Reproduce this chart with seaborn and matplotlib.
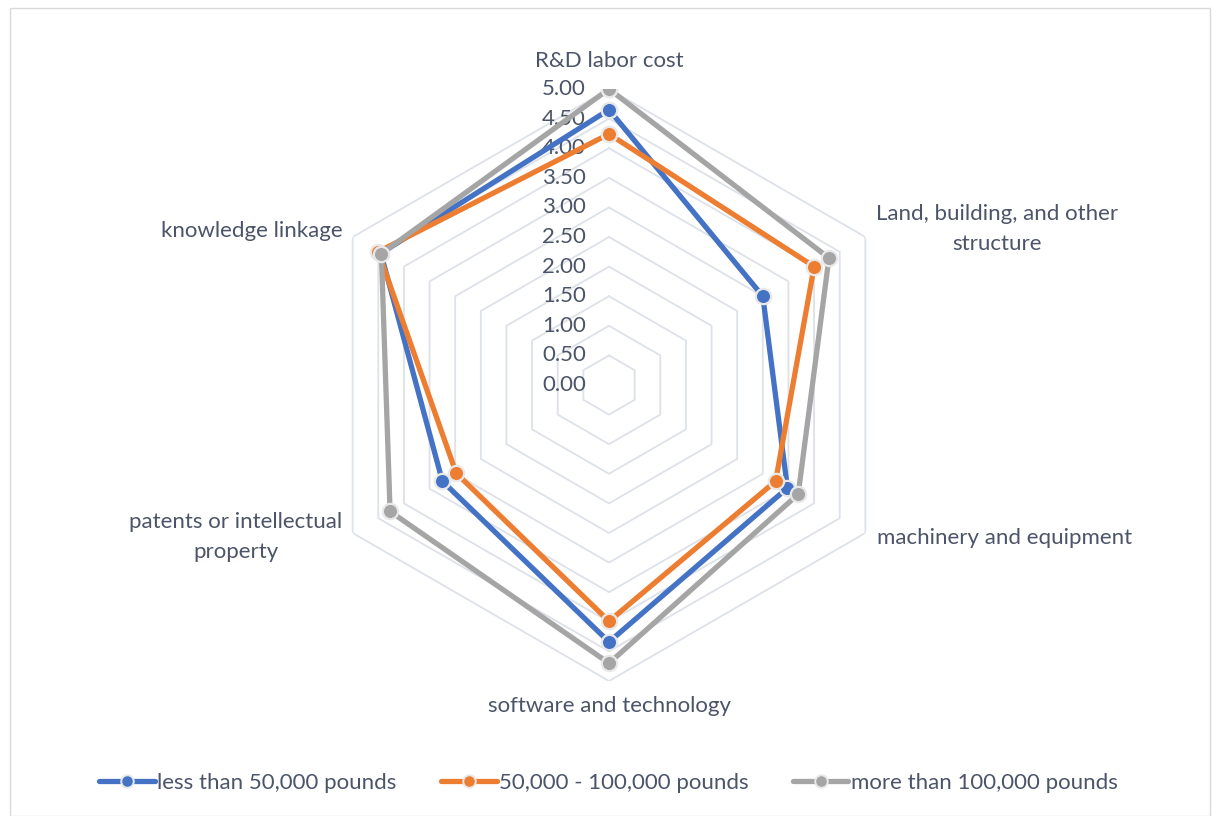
import numpy as np
import pandas as pd
import matplotlib
matplotlib.use("Agg")
import matplotlib.pyplot as plt
import matplotlib.transforms as mtransforms
from matplotlib.lines import Line2D
from matplotlib.patches import Rectangle
import seaborn as sns

categories = ["R&D labor cost", "Land, building, and other\nstructure",
              "machinery and equipment", "software and technology",
              "patents or intellectual\nproperty", "knowledge linkage"]
series_names = ["less than 50,000 pounds", "50,000 - 100,000 pounds",
                "more than 100,000 pounds"]
less_50k = [4.65, 3.00, 3.48, 4.34, 3.25, 4.45]
mid_50_100k = [4.24, 4.00, 3.25, 3.99, 2.98, 4.50]
more_100k = [5.00, 4.29, 3.69, 4.70, 4.27, 4.44]
tick_values = [0.0, 0.5, 1.0, 1.5, 2.0, 2.5, 3.0, 3.5, 4.0, 4.5, 5.0]
tick_labels = ["0.00", "0.50", "1.00", "1.50", "2.00", "2.50", "3.00",
               "3.50", "4.00", "4.50", "5.00"]

colors = ["#4472C4", "#ED7D31", "#A5A5A5"]
text_color = "#4B5468"
grid_color = "#DDE1E8"
FS = 16

sns.set_theme(style="white")
plt.rcParams["font.family"] = ["Lato", "DejaVu Sans"]

W, H = 1217, 816
fig = plt.figure(figsize=(W / 100, H / 100), dpi=100)

cx, cy, R = 609, 385, 296
ax = fig.add_axes([(cx - R) / W, (H - cy - R) / H, 2 * R / W, 2 * R / H],
                  projection="polar")
ax.set_theta_zero_location("N")
ax.set_theta_direction(-1)
ax.set_ylim(0, 5)
ax.grid(False)
ax.spines["polar"].set_visible(False)
ax.patch.set_alpha(0)

n = len(categories)
angles = np.linspace(0, 2 * np.pi, n, endpoint=False)
closed = np.append(angles, 2 * np.pi)

# hexagonal grid
for v in tick_values[1:]:
    ax.plot(closed, [v] * (n + 1), color=grid_color, lw=1.3, zorder=1)

# data
rows = []
for name, vals in zip(series_names, [less_50k, mid_50_100k, more_100k]):
    vv = list(vals) + [vals[0]]
    for i, (t, r) in enumerate(zip(closed, vv)):
        rows.append({"series": name, "theta": t, "r": r, "order": i})
df = pd.DataFrame(rows)

sns.lineplot(data=df, x="theta", y="r", hue="series", hue_order=series_names,
             palette=colors, sort=False, estimator=None,
             marker="o", markersize=11, markeredgecolor="#E8E8E8",
             markeredgewidth=1.6, linewidth=3.8, legend=False, ax=ax, zorder=3)
ax.set_xlabel("")
ax.set_ylabel("")
ax.set_ylim(0, 5)
ax.set_xticks([])
ax.set_yticks([])

# radial tick labels
tr = mtransforms.offset_copy(ax.transData, fig=fig, x=-23, y=0, units="dots")
for v, lab in zip(tick_values, tick_labels):
    ax.text(0, v, lab, transform=tr, ha="right", va="center",
            fontsize=FS, color=text_color, zorder=2)

# category labels
label_specs = [
    (0, 18, "center", "bottom"),
    (132, 8, "center", "center"),
    (12, -5, "left", "center"),
    (0, -15, "center", "top"),
    (-117, -4, "center", "center"),
    (-10, 6, "right", "center"),
]
for ang, cat, (dx, dy, ha, va) in zip(angles, categories, label_specs):
    t = mtransforms.offset_copy(ax.transData, fig=fig, x=dx, y=dy, units="dots")
    ax.text(ang, 5, cat, transform=t, ha=ha, va=va, fontsize=FS,
            color=text_color, multialignment="center", linespacing=1.6)

# legend
handles = [Line2D([0], [0], color=c, lw=3.8, marker="o", markersize=9,
                  markeredgecolor="#E8E8E8", markeredgewidth=1.4)
           for c in colors]
fig.legend(handles, series_names, loc="center", ncol=3,
           bbox_to_anchor=(0.5, 1 - 783 / H), frameon=False, fontsize=FS,
           labelcolor=text_color, handlelength=2.5, handletextpad=0.1,
           columnspacing=2.0)

# chart border
fig.patches.append(Rectangle((10 / W, 0), 1200 / W, 1 - 8 / H,
                             transform=fig.transFigure, fill=False,
                             edgecolor="#D9D9D9", lw=1.0))

fig.savefig("out.png", dpi=100)
